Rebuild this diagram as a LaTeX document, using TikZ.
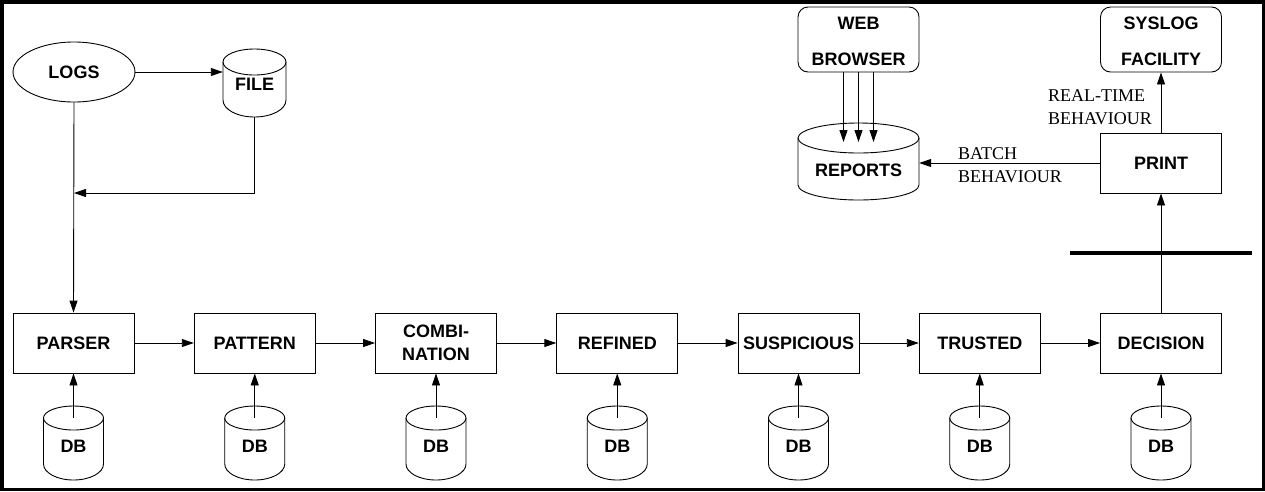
\documentclass[tikz,border=0pt]{standalone}
\usepackage{fontspec}
\setmainfont{Liberation Serif}
\setsansfont{Liberation Sans}
\usetikzlibrary{arrows.meta,shapes.geometric}
\tikzset{
 ln/.style={line width=0.9pt},
 arr/.style={ln, -{Triangle[length=12pt,width=8pt]}},
 stage/.style={draw, ln, minimum width=121pt, minimum height=60pt, inner sep=0pt, align=center, font=\sffamily\bfseries\fontsize{18}{23}\selectfont},
 rbox/.style={stage, rounded corners=10pt, minimum height=65pt, font=\sffamily\bfseries\fontsize{18}{36}\selectfont},
 cyltext/.style={inner sep=0pt, font=\sffamily\bfseries\fontsize{18}{22}\selectfont},
 note/.style={inner sep=0pt, align=left, font=\rmfamily\fontsize{18}{22.5}\selectfont},
}
% name, cx, y of top ellipse centre, rx, ry, y where sides end, bottom depth, label y, label
\newcommand\drawcyl[9]{%
 \draw[ln] (#2,-#3) ellipse[x radius=#4pt, y radius=#5pt];
 \draw[ln] ({#2-#4},-#3) -- ({#2-#4},-#6) arc[start angle=180,end angle=360,x radius=#4pt,y radius=#7pt] -- ({#2+#4},-#3);
 \node[inner sep=0pt, minimum width=2*#4pt, minimum height=#6pt+#7pt-#3pt+#5pt] (#1) at (#2,{-(#3-#5+#6+#7)/2}) {};
 \coordinate (#1top) at (#2,-#3);
 \node[cyltext] (#1label) at (#2,-#8) {#9};
}
\begin{document}
\begin{tikzpicture}[x=1pt,y=1pt]
\useasboundingbox (0,0) rectangle (1265,-491);
\draw[line width=3.5pt] (1.75,-1.75) rectangle (1263.25,-489.25);

% top left
\node[draw, ln, ellipse, minimum width=122pt, minimum height=60pt, inner sep=0pt, font=\sffamily\bfseries\fontsize{18}{22}\selectfont] (logs) at (74,-72) {LOGS};
\drawcyl{file}{254.5}{62}{31.5}{13}{100}{17}{84}{FILE}
\coordinate (join) at (74,-193);

% stages
\node[stage] (parser)   at (73.5,-343)   {PARSER};
\node[stage] (pattern)  at (254.75,-343) {PATTERN};
\node[stage] (combi)    at (436,-343)    {COMBI-\\NATION};
\node[stage] (refined)  at (617.25,-343) {REFINED};
\node[stage] (susp)     at (798.5,-343)  {SUSPICIOUS};
\node[stage] (trusted)  at (979.75,-343) {TRUSTED};
\node[stage] (decision) at (1161,-343)   {DECISION};

% databases
\drawcyl{dba}{73.5}{418}{30}{12}{464}{16}{446}{DB}
\drawcyl{dbb}{254.75}{418}{30}{12}{464}{16}{446}{DB}
\drawcyl{dbc}{436}{418}{30}{12}{464}{16}{446}{DB}
\drawcyl{dbd}{617.25}{418}{30}{12}{464}{16}{446}{DB}
\drawcyl{dbe}{798.5}{418}{30}{12}{464}{16}{446}{DB}
\drawcyl{dbf}{979.75}{418}{30}{12}{464}{16}{446}{DB}
\drawcyl{dbg}{1161}{418}{30}{12}{464}{16}{446}{DB}

% top right
\node[rbox] (browser) at (858.5,-39.5) {};
\node[rbox] (syslog)  at (1161,-39.5)  {};
\node[cyltext, align=center, font=\sffamily\bfseries\fontsize{18}{36}\selectfont] (browsertext) at (858.5,-41.5) {WEB\\BROWSER};
\node[cyltext, align=center, font=\sffamily\bfseries\fontsize{18}{36}\selectfont] (syslogtext) at (1161,-41.5) {SYSLOG\\FACILITY};
\node[stage] (print)  at (1161,-163)   {PRINT};
\drawcyl{reports}{858.5}{138}{60.5}{15}{185}{15}{170}{REPORTS}
\node[note, anchor=west] (rtlabel)    at (1048,-107) {REAL-TIME\\BEHAVIOUR};
\node[note, anchor=west] (batchlabel) at (958,-165)  {BATCH\\BEHAVIOUR};

% thick bar
\draw[line width=4.5pt] (1070,-253) -- (1252,-253);

% connectors
\draw[arr] (logs.east) -- (logs.east -| file.west);
\draw[arr] (logs.south) -- (parser.north);
\draw[arr] (file.south) |- (join);
\draw[arr] (parser) -- (pattern);
\draw[arr] (pattern) -- (combi);
\draw[arr] (combi) -- (refined);
\draw[arr] (refined) -- (susp);
\draw[arr] (susp) -- (trusted);
\draw[arr] (trusted) -- (decision);
\draw[arr] (dbatop) -- (parser.south);
\draw[arr] (dbbtop) -- (pattern.south);
\draw[arr] (dbctop) -- (combi.south);
\draw[arr] (dbdtop) -- (refined.south);
\draw[arr] (dbetop) -- (susp.south);
\draw[arr] (dbftop) -- (trusted.south);
\draw[arr] (dbgtop) -- (decision.south);
\draw[arr] (decision.north) -- (print.south);
\draw[arr] (print.north) -- (syslog.south);
\draw[arr] (print.west) -- (print.west -| reports.east);
\foreach \dx in {-15,0,15}
  \draw[arr] ([xshift=\dx pt]browser.south) -- ([xshift=\dx pt, yshift=-4pt]reportstop);
\end{tikzpicture}
\end{document}
